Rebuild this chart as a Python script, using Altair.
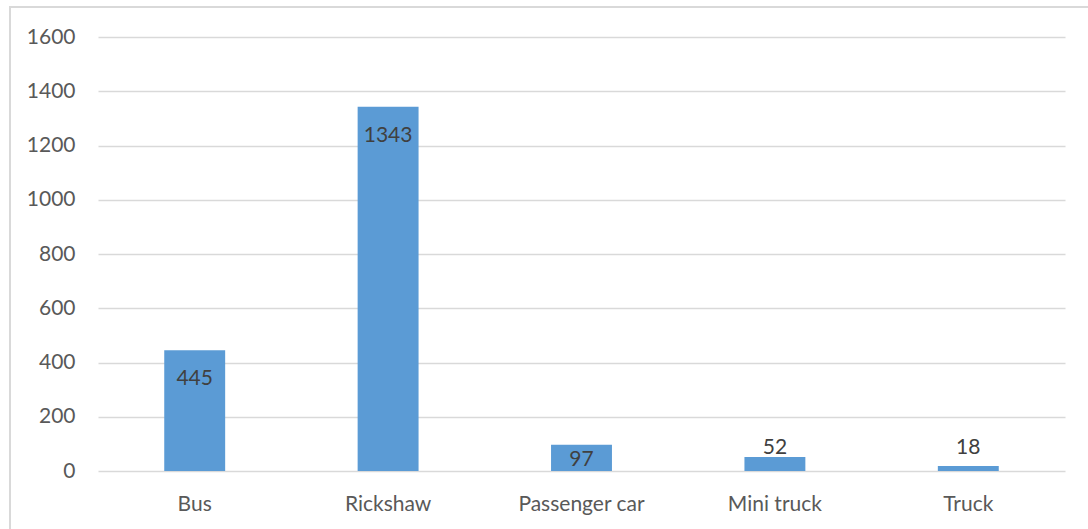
import altair as alt
import pandas as pd

categories = ["Bus", "Rickshaw", "Passenger car", "Mini truck", "Truck"]
values = [445, 1343, 97, 52, 18]
y_ticks = [0, 200, 400, 600, 800, 1000, 1200, 1400, 1600]

df = pd.DataFrame({"category": categories, "value": values})

FONT = "Lato"
BAR = "#5b9bd5"
GRID = "#d9d9d9"
W, H = 967, 434

x_enc = alt.X("category:N", sort=categories, title=None,
              scale=alt.Scale(paddingInner=0.685, paddingOuter=0.3425),
              axis=alt.Axis(labelAngle=0, ticks=False, domain=False,
                            labelPadding=22, labelFont=FONT, labelFontSize=21,
                            labelColor="#595959", grid=False))
y_scale = alt.Scale(domain=[0, 1600], nice=False)
y_enc = alt.Y("value:Q", title=None, scale=y_scale,
              axis=alt.Axis(values=y_ticks, format="d", ticks=False, domain=False,
                            labelPadding=23, labelFont=FONT, labelFontSize=21,
                            labelColor="#595959", gridColor=GRID, gridWidth=1.3))

base = alt.Chart(df)

frame = alt.Chart(df).mark_rect(fill=None, stroke=GRID, strokeWidth=1.3).encode(
    x=alt.value(-88), x2=alt.value(W + 60), y=alt.value(-30), y2=alt.value(H + 90))

bars = base.mark_bar(color=BAR).encode(x=x_enc, y=y_enc)

lab_style = dict(font=FONT, fontSize=21, color="#404040", align="center")

lab_inside = base.transform_filter(
    alt.FieldOneOfPredicate(field="category", oneOf=["Bus", "Rickshaw"])
).mark_text(baseline="top", dy=18, **lab_style).encode(
    x=alt.X("category:N", sort=categories),
    y=alt.Y("value:Q", scale=y_scale),
    text="value:Q")

lab_low = base.transform_filter(
    alt.FieldEqualPredicate(field="category", equal="Passenger car")
).transform_calculate(zero="0").mark_text(
    baseline="alphabetic", dy=-5, **lab_style).encode(
    x=alt.X("category:N", sort=categories),
    y=alt.Y("zero:Q", scale=y_scale),
    text="value:Q")

lab_above = base.transform_filter(
    alt.FieldOneOfPredicate(field="category", oneOf=["Mini truck", "Truck"])
).transform_calculate(zero="0").mark_text(
    baseline="alphabetic", dy=-17, **lab_style).encode(
    x=alt.X("category:N", sort=categories),
    y=alt.Y("zero:Q", scale=y_scale),
    text="value:Q")

chart = alt.layer(frame, bars, lab_inside, lab_low, lab_above).properties(
    width=W, height=H,
    autosize=alt.AutoSizeParams(type="none"),
    padding={"left": 98, "top": 37, "right": 23, "bottom": 58},
    background="white",
).configure_view(stroke=None)

chart.save("out.html", embed_options={"renderer": "svg", "actions": False})
